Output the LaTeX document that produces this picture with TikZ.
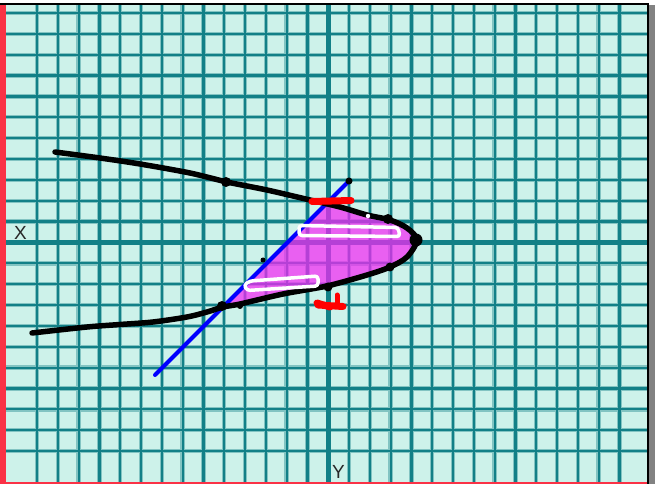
\documentclass[tikz,border=0pt]{standalone}
\usepackage{fontspec}
\setmainfont{Liberation Sans}
\definecolor{bgmint}{RGB}{205,242,234}
\definecolor{gridteal}{RGB}{18,128,135}
\definecolor{magfillc}{RGB}{245,40,245}
\definecolor{lblgray}{RGB}{40,40,40}
\definecolor{shadowgray}{RGB}{130,130,130}
\definecolor{redmark}{RGB}{255,0,0}
\definecolor{edgered}{RGB}{250,50,70}
\begin{document}
\begin{tikzpicture}[x=1pt,y=-1pt,
  gridhalo/.style={draw=gridteal!40!bgmint, line width=4.4pt},
  gridline/.style={draw=gridteal, line width=2.2pt},
  axisline/.style={draw=gridteal, line width=5pt},
  curveblack/.style={draw=black, line width=5.5pt, line cap=round, line join=round},
  blueline/.style={draw=blue, line width=4pt, line cap=round},
  dotblack/.style={fill=black},
  whitemark/.style={draw=white, line width=3.5pt, line join=round, rounded corners=3pt},
  redstroke/.style={draw=redmark, line width=7pt, line cap=round},
  lbl/.style={inner sep=0pt, text=lblgray, font=\fontsize{19}{19}\selectfont}
]
\useasboundingbox (0,0) rectangle (657,484);
\fill[white] (0,0) rectangle (657,484);
\fill[bgmint] (0,4) rectangle (648,484);
% grid
\foreach \i in {0,...,21} {
  \draw[gridhalo] (6,{13+20.86*\i}) -- (647,{13+20.86*\i});
}
\foreach \j in {0,...,28} {
  \draw[gridhalo] ({37+20.8*\j},4) -- ({37+20.8*\j},482);
}
\foreach \i in {0,...,21} {
  \draw[gridline] (6,{13+20.86*\i}) -- (647,{13+20.86*\i});
}
\foreach \j in {0,...,28} {
  \draw[gridline] ({37+20.8*\j},4) -- ({37+20.8*\j},482);
}
% axes
\draw[axisline] (6,242.5) -- (647,242.5);
\draw[axisline] (328.2,4) -- (328.2,482);
% shaded region
\fill[magfillc, fill opacity=0.72] plot[smooth] coordinates {(326,204) (340,207.5) (367,215.5) (390,221.5) (406,229) (414,240) (406,255) (390,265.5) (367,274.5) (327,285.5) (283,293.5) (240,303.5) (223,306.5)} -- cycle;
% blue line
\coordinate (bA) at (155,375);
\coordinate (bB) at (349,181);
\draw[blueline] (bA) -- (bB);
% black curve
\draw[curveblack] plot[smooth] coordinates {(55,152) (100,158) (140,164) (190,173) (227,182) (267,190) (310,200) (340,207) (367,215) (390,220) (407,228) (417,240) (407,257) (390,267) (367,275) (327,286) (283,294) (240,304) (223,307) (207,312) (187,317) (153,322) (120,324.5) (87,327) (32,333)};
% dots
\fill[dotblack] (226,182) circle (5);
\fill[dotblack] (388,219) circle (5);
\fill[dotblack] (416,240) circle (6.5);
\fill[dotblack] (390,267) circle (4.5);
\fill[dotblack] (328,287) circle (4.5);
\fill[dotblack] (222,306) circle (5);
\fill[dotblack] (240,306) circle (3);
\fill[dotblack] (263,260) circle (2.5);
\fill[dotblack] (bB) circle (3.5);
% white marks
\draw[whitemark] (299,225.5) -- (398,227.5) -- (400,236.5) -- (299,235.5) -- cycle;
\draw[whitemark] (250,281) -- (318,276) -- (318,286) -- (247,290.5) -- (244,285) -- cycle;
\fill[white] (368,216) circle (2.2);
% red marks
\draw[redstroke] (312,201.5) -- (351,200.5);
\draw[redstroke] (318,305) -- (343,306.5);
\draw[redstroke] (317,303) -- (330,307);
\draw[redmark, line width=5pt, line cap=round] (337,295) -- (337,304);
% frame
\fill[edgered] (0,4) rectangle (6,484);
\draw[black, line width=2pt] (0,4) -- (648.5,4);
\fill[shadowgray] (649,5) rectangle (655,484);
\draw[black, line width=2pt] (648,4) -- (648,484);
\draw[edgered, line width=2pt] (6,483) -- (647,483);
% labels
\node[lbl] (xlabel) at (20.5,233) {X};
\node[lbl] (ylabel) at (338.5,472) {Y};
\end{tikzpicture}
\end{document}
